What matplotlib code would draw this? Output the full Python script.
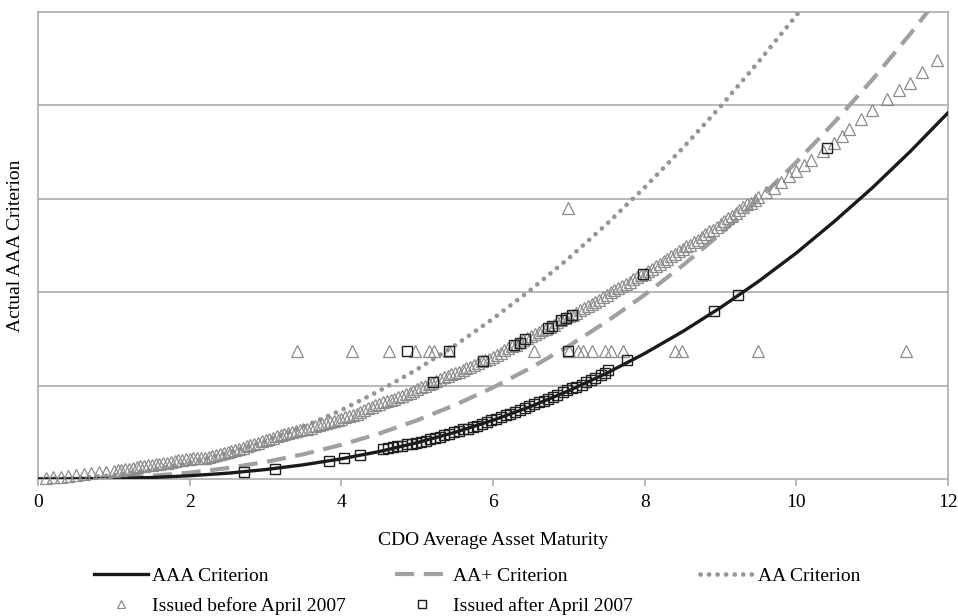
import matplotlib
matplotlib.use("Agg")
import matplotlib.pyplot as plt
from matplotlib.lines import Line2D

plt.rcParams['font.family'] = ['Liberation Serif', 'DejaVu Serif']

# ---- criterion curves ----
crit_x = [0, 0.5, 1, 1.5, 2, 2.5, 3, 3.5, 4, 4.5, 5, 5.5, 6, 6.5, 7, 7.5,
          8, 8.5, 9, 9.5, 10, 10.5, 11, 11.5, 12]
aaa_y = [0, 0.001, 0.006, 0.016, 0.035, 0.062, 0.101, 0.152, 0.216, 0.294,
         0.389, 0.500, 0.629, 0.777, 0.945, 1.133, 1.344, 1.578, 1.835,
         2.115, 2.420, 2.757, 3.116, 3.505, 3.921]
aap_y = [0, 0.002, 0.013, 0.034, 0.068, 0.117, 0.182, 0.265, 0.366, 0.487,
         0.629, 0.793, 0.980, 1.191, 1.425, 1.686, 1.972, 2.285, 2.624,
         2.993, 3.392, 3.818, 4.274, 4.763, 5.282]
aa_x = [0, 0.5, 1, 1.5, 2, 2.5, 3, 3.5, 4, 4.5, 5, 5.5, 6, 6.5, 7, 7.5,
        8, 8.5, 9, 9.5, 10, 10.5]
aa_y = [0, 0.010, 0.041, 0.096, 0.175, 0.278, 0.406, 0.559, 0.738, 0.943,
        1.174, 1.431, 1.716, 2.027, 2.365, 2.730, 3.122, 3.541, 3.988,
        4.465, 4.964, 5.497]

# ---- CDOs issued before April 2007 (triangles) ----
tri_x = [0.1, 0.2, 0.3, 0.4, 0.5, 0.6, 0.7, 0.8, 0.9, 1.0, 1.1, 1.2, 1.3, 1.4,
         1.5, 1.6, 1.7, 1.8, 1.9, 2.0, 2.1, 2.2, 2.3, 2.4, 2.5, 2.6, 2.7, 2.8,
         2.9, 3.0, 3.1, 3.2, 3.3, 3.4, 3.5, 3.6, 3.7, 3.8, 3.9, 4.0, 4.1, 4.2,
         4.3, 4.4, 4.5, 4.6, 4.7, 4.8, 4.9, 5.0, 5.1, 5.2, 5.3, 5.4, 5.5, 5.6,
         5.7, 5.8, 5.9, 6.0, 6.1, 6.2, 6.3, 6.4, 6.5, 6.6, 6.7, 6.8, 6.9, 7.0,
         7.1, 7.2, 7.3, 7.4, 7.5, 7.6, 7.7, 7.8, 7.9, 8.0, 8.1, 8.2, 8.3, 8.4,
         8.5, 8.6, 8.7, 8.8, 8.9, 9.0, 9.1, 9.2, 9.3, 9.4, 9.5, 9.6, 9.7, 9.8,
         9.9, 10.0, 10.1, 10.2, 10.35, 10.5, 10.6, 10.7, 10.85, 11.0, 11.2,
         11.36, 11.5, 11.66, 11.86,
         # outliers
         3.42, 4.14, 4.63, 4.97, 5.16, 5.22, 5.42, 6.54, 7.00, 7.12, 7.19,
         7.31, 7.48, 7.55, 7.72, 8.40, 8.49, 9.49, 11.44, 6.99]
tri_y = [0.01, 0.02, 0.02, 0.03, 0.04, 0.05, 0.06, 0.07, 0.08, 0.09, 0.10,
         0.11, 0.13, 0.14, 0.15, 0.16, 0.17, 0.19, 0.20, 0.21, 0.22, 0.23,
         0.25, 0.27, 0.29, 0.31, 0.33, 0.36, 0.39, 0.42, 0.44, 0.47, 0.49,
         0.51, 0.53, 0.55, 0.58, 0.60, 0.62, 0.64, 0.67, 0.70, 0.74, 0.77,
         0.80, 0.83, 0.86, 0.89, 0.92, 0.96, 1.00, 1.03, 1.07, 1.10, 1.13,
         1.17, 1.20, 1.24, 1.27, 1.31, 1.35, 1.40, 1.44, 1.49, 1.53, 1.57,
         1.61, 1.65, 1.70, 1.74, 1.78, 1.83, 1.87, 1.92, 1.97, 2.02, 2.07,
         2.11, 2.16, 2.20, 2.25, 2.30, 2.36, 2.41, 2.46, 2.51, 2.56, 2.62,
         2.67, 2.73, 2.79, 2.85, 2.91, 2.96, 3.02, 3.07, 3.12, 3.18, 3.24,
         3.30, 3.36, 3.42, 3.51, 3.60, 3.67, 3.75, 3.85, 3.95, 4.07, 4.17,
         4.24, 4.36, 4.49,
         1.37, 1.37, 1.37, 1.37, 1.37, 1.37, 1.37, 1.37, 1.37, 1.37, 1.37,
         1.37, 1.37, 1.37, 1.37, 1.37, 1.37, 1.37, 1.37, 2.90]
# more triangles filling the dense band
tri2_x = [1.05, 1.15, 1.25, 1.35, 1.45, 1.55, 1.65, 1.75, 1.85, 1.95,
          2.05, 2.15, 2.25, 2.35, 2.45, 2.55, 2.65, 2.75, 2.85, 2.95,
          3.05, 3.15, 3.25, 3.35, 3.45, 3.55, 3.65, 3.75, 3.85, 3.95,
          4.05, 4.15, 4.25, 4.35, 4.45, 4.55, 4.65, 4.75, 4.85, 4.95,
          5.05, 5.15, 5.25, 5.35, 5.45, 5.55, 5.65, 5.75, 5.85, 5.95,
          6.05, 6.15, 6.25, 6.35, 6.45, 6.55, 6.65, 6.75, 6.85, 6.95,
          7.05, 7.15, 7.25, 7.35, 7.45, 7.55, 7.65, 7.75, 7.85, 7.95,
          8.05, 8.15, 8.25, 8.35, 8.45, 8.55, 8.65, 8.75, 8.85, 8.95,
          9.05, 9.15, 9.25, 9.35, 9.45]
tri2_y = [0.10, 0.11, 0.12, 0.14, 0.15, 0.16, 0.17, 0.18, 0.20, 0.21,
          0.22, 0.23, 0.24, 0.26, 0.28, 0.30, 0.32, 0.35, 0.38, 0.41,
          0.43, 0.46, 0.48, 0.50, 0.52, 0.54, 0.57, 0.59, 0.61, 0.63,
          0.66, 0.69, 0.72, 0.76, 0.79, 0.82, 0.85, 0.88, 0.91, 0.94,
          0.98, 1.02, 1.05, 1.09, 1.12, 1.15, 1.19, 1.22, 1.26, 1.29,
          1.33, 1.38, 1.42, 1.47, 1.51, 1.55, 1.59, 1.63, 1.68, 1.72,
          1.76, 1.81, 1.85, 1.90, 1.95, 2.00, 2.05, 2.09, 2.14, 2.18,
          2.23, 2.28, 2.33, 2.39, 2.44, 2.49, 2.54, 2.59, 2.65, 2.70,
          2.76, 2.82, 2.88, 2.94, 2.99]

# ---- CDOs issued after April 2007 (squares) ----
sq_x = [2.71, 3.12, 3.84, 4.03, 4.24, 4.55, 4.62, 4.68, 4.74, 4.80, 4.86,
        4.93, 4.99, 5.05, 5.11, 5.17, 5.24, 5.30, 5.36, 5.42, 5.48, 5.55,
        5.61, 5.67, 5.73, 5.79, 5.86, 5.92, 5.98, 6.04, 6.10, 6.17, 6.23,
        6.29, 6.35, 6.42, 6.48, 6.54, 6.60, 6.67, 6.73, 6.79, 6.85, 6.92,
        6.98, 7.04, 7.10, 7.17, 7.23, 7.29, 7.35, 7.42, 7.48, 7.52, 7.77,
        8.92, 9.23,
        5.21, 5.87, 6.28, 6.35, 6.42, 6.72, 6.78, 6.90, 6.96, 7.04, 7.98,
        10.40,
        4.87, 5.42, 6.99]
sq_y = [0.07, 0.11, 0.19, 0.23, 0.26, 0.32, 0.33, 0.34, 0.35, 0.35, 0.37,
        0.38, 0.39, 0.40, 0.41, 0.43, 0.44, 0.45, 0.47, 0.48, 0.50, 0.51,
        0.53, 0.54, 0.56, 0.57, 0.59, 0.61, 0.63, 0.64, 0.66, 0.68, 0.70,
        0.72, 0.74, 0.76, 0.78, 0.80, 0.82, 0.84, 0.86, 0.88, 0.90, 0.93,
        0.95, 0.97, 0.99, 1.01, 1.04, 1.06, 1.08, 1.11, 1.13, 1.17, 1.27,
        1.80, 1.97,
        1.04, 1.26, 1.43, 1.46, 1.50, 1.62, 1.64, 1.70, 1.72, 1.76, 2.20,
        3.54,
        1.37, 1.37, 1.37]

x_ticks = [0, 2, 4, 6, 8, 10, 12]
grid_levels = [1, 2, 3, 4]

FS = 14
GRID = '#a6a6a6'
TRI = '#8c8c8c'
fig = plt.figure(figsize=(9.58, 6.16), dpi=100)
ax = fig.add_axes([38 / 958, 1 - 479 / 616, 910 / 958, 467 / 616])

for g in grid_levels:
    ax.axhline(g, color=GRID, lw=1.1, zorder=0)

l_aa, = ax.plot(aa_x, aa_y, color='#969696', lw=3.4, linestyle=(0, (0.01, 1.8)),
                dash_capstyle='round', solid_capstyle='round', zorder=2)
l_aap, = ax.plot(crit_x, aap_y, color='#a0a0a0', lw=3.0, linestyle=(0, (4.6, 2.3)),
                 zorder=2)
l_aaa, = ax.plot(crit_x, aaa_y, color='#1a1a1a', lw=2.4, zorder=3)

ax.plot(tri_x, tri_y, linestyle='none', marker='^', ms=8.5, mfc='none',
        mec=TRI, mew=0.9, zorder=4, clip_on=False)
ax.plot(tri2_x, tri2_y, linestyle='none', marker='^', ms=8.5, mfc='none',
        mec=TRI, mew=0.9, zorder=4)
ax.plot(sq_x, sq_y, linestyle='none', marker='s', ms=7.5, mfc='none',
        mec='#1e1e1e', mew=1.0, zorder=5)

ax.set_xlim(0, 12)
ax.set_ylim(0, 5)
ax.set_xticks(x_ticks)
ax.set_xticklabels([str(t) for t in x_ticks], fontsize=FS)
ax.set_yticks([])
for s in ax.spines.values():
    s.set_color(GRID)
    s.set_linewidth(1.1)
ax.tick_params(axis='x', colors=GRID, labelcolor='black', length=5, width=1.1,
               pad=6)
ax.set_xlabel('CDO Average Asset Maturity', fontsize=FS, labelpad=15)
ax.set_ylabel('Actual AAA Criterion', fontsize=FS, labelpad=10)

h_tri = Line2D([], [], linestyle='none', marker='^', ms=6, mfc='none',
               mec=TRI, mew=0.9)
h_sq = Line2D([], [], linestyle='none', marker='s', ms=6, mfc='none',
              mec='#1e1e1e', mew=1.0)

leg_kw = dict(loc='upper left', frameon=False, fontsize=FS, handlelength=2.8,
              handletextpad=0.2, labelspacing=0.65, borderpad=0, borderaxespad=0)
top = 1 - 567 / 616
fig.legend([l_aaa, h_tri], ['AAA Criterion', 'Issued before April 2007'],
           bbox_to_anchor=(94 / 958, top), **leg_kw)
fig.legend([l_aap, h_sq], ['AA+ Criterion', 'Issued after April 2007'],
           bbox_to_anchor=(395 / 958, top), **leg_kw)
fig.legend([l_aa], ['AA Criterion'],
           bbox_to_anchor=(700 / 958, top), **leg_kw)

fig.savefig('out.png', dpi=100)
